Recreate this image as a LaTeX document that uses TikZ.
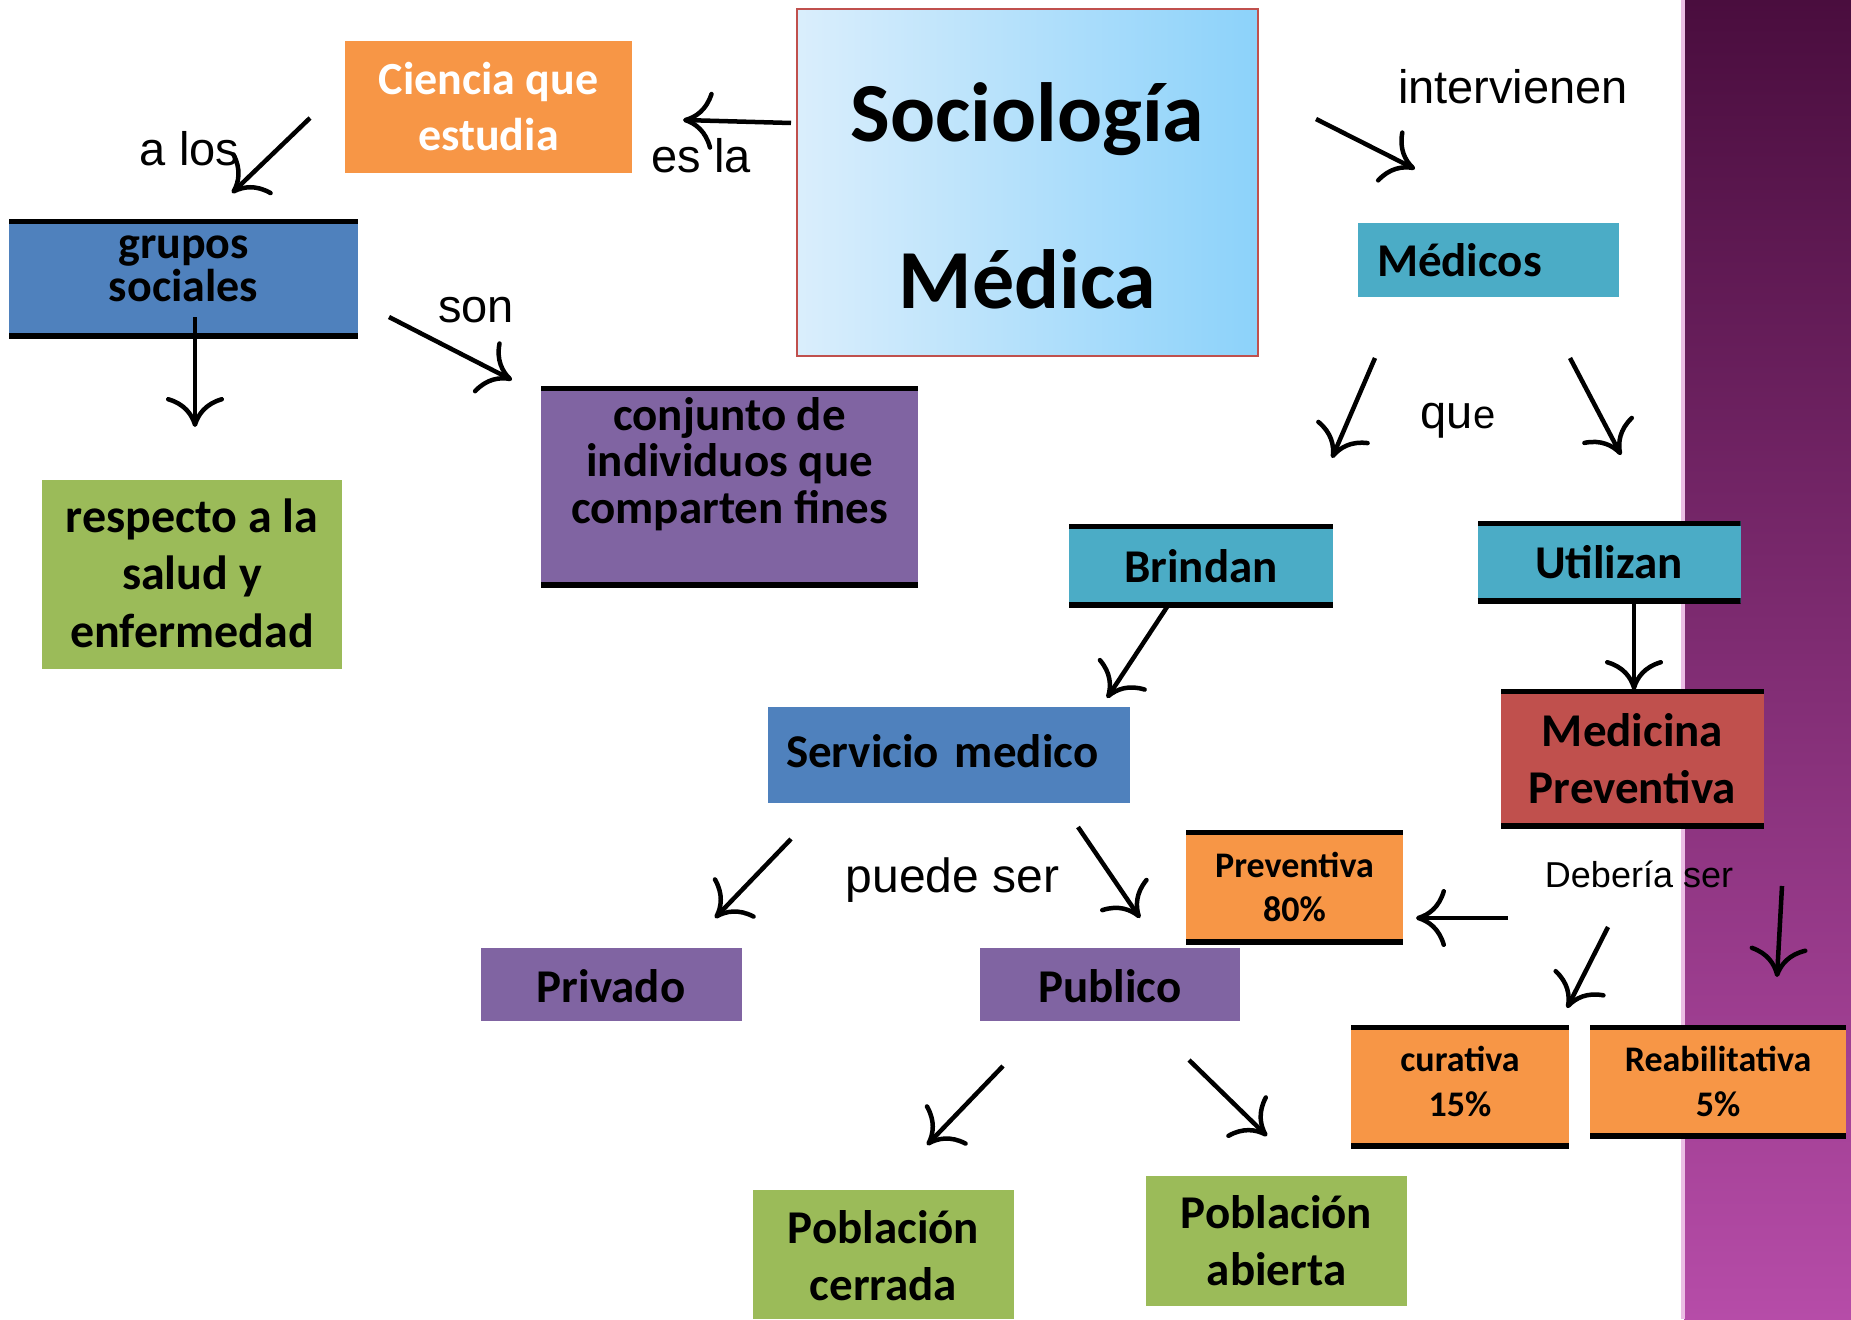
\documentclass[tikz,border=0pt]{standalone}
\usepackage{fontspec}
\setmainfont{Carlito}
\newfontfamily\arialfont{Liberation Sans}
\usetikzlibrary{arrows.meta}
\definecolor{BoxOrange}{RGB}{247,150,70}
\definecolor{BoxBlue}{RGB}{79,129,189}
\definecolor{BoxGreen}{RGB}{155,187,89}
\definecolor{BoxPurple}{RGB}{128,100,162}
\definecolor{BoxTeal}{RGB}{75,172,198}
\definecolor{BoxRed}{RGB}{192,80,77}
\definecolor{SkyLight}{RGB}{218,238,252}
\definecolor{SkyDeep}{RGB}{140,210,250}
\definecolor{BandTop}{RGB}{74,13,62}
\definecolor{BandMid}{RGB}{125,45,110}
\definecolor{BandBottom}{RGB}{182,76,168}
\definecolor{BandEdge}{RGB}{235,190,228}
\newcommand{\bx}[2]{\bfseries\fontsize{#1}{#2}\selectfont\lineskiplimit=-1000pt\relax}
\newcommand{\lb}[1]{\arialfont\fontsize{#1}{#1}\selectfont}
\newcommand{\hs}[1]{\rule{0pt}{#1pt}}
\newcommand{\ds}[1]{\rule[-#1pt]{0pt}{#1pt}}
\tikzset{
  box/.style 2 args={minimum width=#1, minimum height=#2, inner sep=0pt, align=center, font=\bx{47}{57}},
  bars/.style={path picture={\draw[line width=10pt] (path picture bounding box.north west) -- (path picture bounding box.north east) (path picture bounding box.south west) -- (path picture bounding box.south east);}},
  lbl/.style={inner sep=0pt, anchor=base, font=\lb{47}},
  arr/.style={line width=4.5pt, -{Computer Modern Rightarrow[length=30pt,width=58pt]}}
}
\begin{document}
\begin{tikzpicture}[x=1pt, y=-1pt]
  \useasboundingbox (0,0) rectangle (1851,1319);
  \clip (0,0) rectangle (1851,1319);
  \fill[white] (0,0) rectangle (1851,1319);
  \fill[top color=BandTop, middle color=BandMid, bottom color=BandBottom] (1684,0) rectangle (1851,1319);
  \fill[BandEdge] (1681,0) rectangle (1685,1319);

  \node (soc) [box={461}{347}, draw=BoxRed, line width=2.5pt, left color=SkyLight, right color=SkyDeep, font=\bx{84}{167}] at (1027.5,182.5) {\hs{86}Sociología\\Médica};
  \node (ciencia) [box={287}{132}, fill=BoxOrange, text=white, font=\bx{46}{56}] at (488.5,107) {\hs{40}Ciencia que\\estudia\ds{9}};
  \node (grupos) [box={349}{119}, fill=BoxBlue, bars, font=\bx{46}{43}] at (183.5,278.5) {\hs{30}grupos\\sociales\ds{28}};
  \node (respecto) [box={300}{189}, fill=BoxGreen, font=\bx{48}{57.5}] at (192,574.5) {\hs{40}respecto a la\\salud y\\enfermedad\ds{10}};
  \node (conjunto) [box={377}{201}, fill=BoxPurple, bars, font=\bx{47}{46.5}] at (729.5,486.5) {\hs{40}conjunto de\\individuos que\\comparten fines\ds{60}};
  \node (medicos) [box={261}{74}, fill=BoxTeal, text width=223pt, align=left] at (1488.5,260) {\hs{40}Médicos\ds{8}};
  \node (brindan) [box={264}{83}, fill=BoxTeal, bars] at (1201,565.5) {\hs{40}Brindan\ds{7}};
  \node (utilizan) [box={263}{82}, fill=BoxTeal, bars] at (1609,562) {\hs{40}Utilizan\ds{8}};
  \node (medicina) [box={263}{139}, fill=BoxRed, bars] at (1632.5,758.5) {\hs{40}Medicina\\Preventiva\ds{8}};
  \node (servicio) [box={362}{96}, fill=BoxBlue, text width=326pt, align=left] at (949,755) {\hs{40}Servicio medico\ds{16}};
  \node (prev) [box={217}{114}, fill=BoxOrange, bars, font=\bx{36}{44}] at (1294.5,887) {\hs{32}Preventiva\\80\%\ds{8}};
  \node (privado) [box={261}{73}, fill=BoxPurple] at (611,984.5) {\hs{40}Privado\ds{5}};
  \node (publico) [box={260}{73}, fill=BoxPurple] at (1110,984.5) {\hs{40}Publico\ds{5}};
  \node (curativa) [box={218}{123}, fill=BoxOrange, bars, font=\bx{36}{45}] at (1460,1086.5) {\hs{30}curativa\\15\%\ds{16}};
  \node (reab) [box={256}{113}, fill=BoxOrange, bars, font=\bx{36}{45}] at (1718,1081.5) {\hs{32}Reabilitativa\\5\%\ds{8}};
  \node (cerrada) [box={261}{129}, fill=BoxGreen] at (883.5,1254.5) {\hs{40}Población\\cerrada\ds{6}};
  \node (abierta) [box={261}{130}, fill=BoxGreen] at (1276.5,1241) {\hs{40}Población\\abierta\ds{9}};

  \node (alos) [lbl] at (189.5,165) {a los};
  \node (esla) [lbl] at (701,172) {es la};
  \node (son) [lbl] at (476,322) {son};
  \node (interv) [lbl] at (1513,103) {intervienen};
  \node (que) [lbl] at (1458,428) {qu{\fontsize{40}{40}\selectfont e}};
  \node (puede) [lbl, font=\lb{48}] at (952.5,892) {puede ser};
  \node (deberia) [lbl, font=\lb{36}] at (1639,887) {Debería ser};

  \coordinate (socW) at (791,123);     \coordinate (cienciaE) at (683,120);
  \coordinate (cienciaSW) at (310,118); \coordinate (gruposN) at (232,193);
  \coordinate (gruposS) at (195,317);  \coordinate (respectoN) at (195,427);
  \coordinate (gruposE) at (389,317);  \coordinate (conjuntoNW) at (512,380);
  \coordinate (socE) at (1316,119);    \coordinate (medicosN) at (1415,169);
  \coordinate (medicosSW) at (1375,358); \coordinate (brindanN) at (1332,458);
  \coordinate (medicosSE) at (1570,358); \coordinate (utilizanN) at (1621,455);
  \coordinate (brindanS) at (1167,607); \coordinate (servicioN) at (1107,698);
  \coordinate (utilizanS) at (1634,603); \coordinate (medicinaN) at (1634,690);
  \coordinate (servicioSW) at (791,839); \coordinate (privadoN) at (715,918);
  \coordinate (servicioSE) at (1078,827); \coordinate (publicoN) at (1140,918);
  \coordinate (deberiaW) at (1508,918); \coordinate (prevE) at (1416,918);
  \coordinate (deberiaS) at (1608,927); \coordinate (curativaN) at (1567,1008);
  \coordinate (deberiaE) at (1782,886); \coordinate (reabN) at (1777,977);
  \coordinate (publicoSW) at (1003,1066); \coordinate (cerradaN) at (927,1145);
  \coordinate (publicoSE) at (1189,1060); \coordinate (abiertaN) at (1267,1136);

  \draw[arr] (socW) -- (cienciaE);
  \draw[arr] (cienciaSW) -- (gruposN);
  \draw[arr] (gruposS) -- (respectoN);
  \draw[arr] (gruposE) -- (conjuntoNW);
  \draw[arr] (socE) -- (medicosN);
  \draw[arr] (medicosSW) -- (brindanN);
  \draw[arr] (medicosSE) -- (utilizanN);
  \draw[arr] (brindanS) -- (servicioN);
  \draw[arr] (utilizanS) -- (medicinaN);
  \draw[arr] (servicioSW) -- (privadoN);
  \draw[arr] (servicioSE) -- (publicoN);
  \draw[arr] (deberiaW) -- (prevE);
  \draw[arr] (deberiaS) -- (curativaN);
  \draw[arr] (deberiaE) -- (reabN);
  \draw[arr] (publicoSW) -- (cerradaN);
  \draw[arr] (publicoSE) -- (abiertaN);
\end{tikzpicture}
\end{document}
